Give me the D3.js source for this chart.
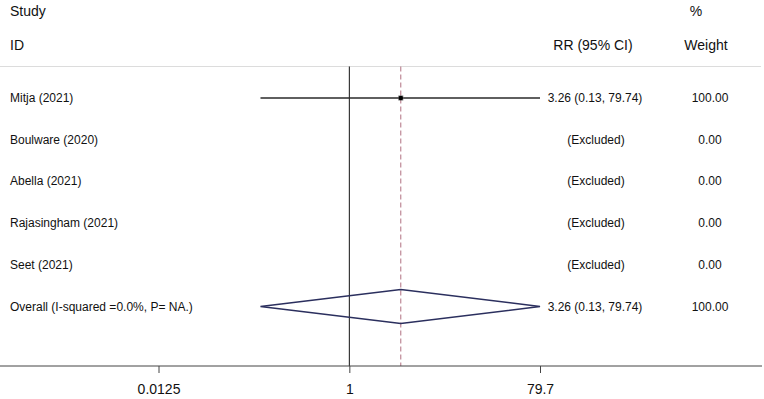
<!DOCTYPE html>
<html>
<head>
<meta charset="utf-8">
<script src="https://cdn.jsdelivr.net/npm/d3@7/dist/d3.min.js"></script>
<style>
  body { margin: 0; background: #fff; }
  svg { font-family: "Liberation Sans", Arial, Helvetica, sans-serif; }
</style>
</head>
<body>
<div id="forest"></div>
<script>
// forest plot of RR per study (log scale)
var width = 764;
var height = 399;

var studies = ["Mitja (2021)", "Boulware (2020)", "Abella (2021)", "Rajasingham (2021)", "Seet (2021)"];
var rr = [3.26, null, null, null, null];
var lower = [0.13, null, null, null, null];
var upper = [79.74, null, null, null, null];
var weights = [100.00, 0.00, 0.00, 0.00, 0.00];

var overallLabel = "Overall (I-squared =0.0%, P= NA.)";
var overallRR = 3.26;
var overallLower = 0.13;
var overallUpper = 79.74;
var overallWeight = 100.00;

var tickValues = [0.0125, 1, 79.7];

var rows = studies.concat([overallLabel]);

var x = d3.scaleLog()
    .domain([0.0125, 79.7])
    .range([158.5, 540]);

var y = d3.scalePoint()
    .domain(rows)
    .range([98, 306.5]);

var axisY = 366;
var topY = 66.5;

var svg = d3.select("#forest")
    .append("svg")
    .attr("width", width)
    .attr("height", height);

// header
var header = svg.append("g").attr("class", "header")
    .style("font-size", "14px").style("fill", "#111");
header.append("text").attr("x", 10).attr("y", 16).text("Study");
header.append("text").attr("x", 10).attr("y", 50).text("ID");
header.append("text").attr("x", 696).attr("y", 16).attr("text-anchor", "middle").text("%");
header.append("text").attr("x", 593).attr("y", 50).attr("text-anchor", "middle").text("RR (95% CI)");
header.append("text").attr("x", 706).attr("y", 50).attr("text-anchor", "middle").text("Weight");

svg.append("line")
    .attr("x1", 0).attr("x2", 761)
    .attr("y1", topY).attr("y2", topY)
    .style("stroke", "#dcdcdc")
    .style("stroke-width", 1);

// null line at RR = 1
svg.append("line")
    .attr("x1", x(1)).attr("x2", x(1))
    .attr("y1", topY).attr("y2", axisY)
    .style("stroke", "#111")
    .style("stroke-width", 1);

// overall effect line
svg.append("line")
    .attr("x1", x(overallRR)).attr("x2", x(overallRR))
    .attr("y1", topY).attr("y2", axisY)
    .style("stroke", "#b07080")
    .style("stroke-width", 1)
    .style("stroke-dasharray", "5,3");

// study rows
var studyData = studies.map(function(s, i) {
    return {name: s, rr: rr[i], lo: lower[i], hi: upper[i], w: weights[i]};
});

var rowG = svg.append("g").attr("class", "rows").style("font-size", "12px").style("fill", "#111");

studyData.forEach(function(d) {
    var yy = y(d.name);
    rowG.append("text").attr("x", 10).attr("y", yy + 4).text(d.name);
    if (d.rr != null) {
        svg.append("line")
            .attr("x1", x(d.lo)).attr("x2", x(d.hi))
            .attr("y1", yy).attr("y2", yy)
            .style("stroke", "#2a2a2a")
            .style("stroke-width", 1.6);
        svg.append("rect")
            .attr("x", x(d.rr) - 2.5).attr("y", yy - 2.5)
            .attr("width", 5).attr("height", 5)
            .style("fill", "#777");
        svg.append("circle")
            .attr("cx", x(d.rr)).attr("cy", yy)
            .attr("r", 2.3)
            .style("fill", "#000");
        rowG.append("text").attr("x", 595).attr("y", yy + 4).attr("text-anchor", "middle")
            .text(d.rr.toFixed(2) + " (" + d.lo.toFixed(2) + ", " + d.hi.toFixed(2) + ")");
    } else {
        rowG.append("text").attr("x", 596).attr("y", yy + 4).attr("text-anchor", "middle")
            .text("(Excluded)");
    }
    rowG.append("text").attr("x", 710).attr("y", yy + 4).attr("text-anchor", "middle")
        .text(d.w.toFixed(2));
});

// overall diamond
var oy = y(overallLabel);
svg.append("path")
    .attr("d", "M" + x(overallLower) + "," + oy +
               "L" + x(overallRR) + "," + (oy - 17) +
               "L" + x(overallUpper) + "," + oy +
               "L" + x(overallRR) + "," + (oy + 17) + "Z")
    .style("fill", "none")
    .style("stroke", "#2b2f5e")
    .style("stroke-width", 1.5);

rowG.append("text").attr("x", 10).attr("y", oy + 4).text(overallLabel);
rowG.append("text").attr("x", 595).attr("y", oy + 4).attr("text-anchor", "middle")
    .text(overallRR.toFixed(2) + " (" + overallLower.toFixed(2) + ", " + overallUpper.toFixed(2) + ")");
rowG.append("text").attr("x", 710).attr("y", oy + 4).attr("text-anchor", "middle")
    .text(overallWeight.toFixed(2));

// x axis
svg.append("line")
    .attr("x1", 0).attr("x2", 762)
    .attr("y1", axisY).attr("y2", axisY)
    .style("stroke", "#444")
    .style("stroke-width", 1);

var xAxis = d3.axisBottom(x)
    .tickValues(tickValues)
    .tickSize(7)
    .tickPadding(11)
    .tickFormat(function(d) { return String(d); });

var gAxis = svg.append("g")
    .attr("transform", "translate(0," + axisY + ")")
    .call(xAxis);

gAxis.select(".domain").remove();
gAxis.selectAll(".tick line").style("stroke", "#444");
gAxis.selectAll(".tick text")
    .style("font-size", "14px")
    .style("font-family", "'Liberation Sans', Arial, sans-serif")
    .style("fill", "#111");
</script>
</body>
</html>
